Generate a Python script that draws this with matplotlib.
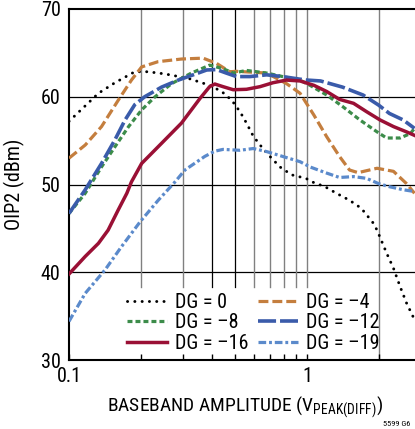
import numpy as np
import matplotlib
matplotlib.use("Agg")
import matplotlib.pyplot as plt

plt.rcParams['font.family'] = ['Liberation Sans Narrow', 'Roboto Condensed', 'DejaVu Sans Condensed',
                               'Liberation Sans', 'DejaVu Sans']

# DG = 0
x_dg0 = [0.1, 0.133, 0.156, 0.189, 0.215, 0.253, 0.317, 0.39, 0.438, 0.483, 0.523, 0.557,
         0.595, 0.644, 0.699, 0.77, 0.862, 0.99, 1.05, 1.19, 1.33, 1.51, 1.69, 1.9, 1.97,
         2.16, 2.31, 2.46, 2.62, 2.83]
y_dg0 = [57.2, 60.4, 61.6, 62.85, 62.85, 62.6, 62.1, 61.3, 60.6, 59.6, 58.3, 57.0,
         55.5, 54.3, 53.2, 52.0, 51.1, 50.7, 50.3, 49.75, 49.0, 48.2, 47.3, 45.6, 44.8,
         42.2, 40.45, 38.4, 36.5, 34.6]

# DG = -4
x_dg4 = [0.1, 0.117, 0.137, 0.161, 0.183, 0.202, 0.237, 0.297, 0.366, 0.417, 0.474, 0.505,
         0.677, 0.82, 0.935, 1.07, 1.21, 1.37, 1.51, 1.64, 1.97, 2.31, 2.62, 2.83]
y_dg4 = [53.0, 54.5, 56.6, 59.6, 61.9, 63.4, 64.0, 64.3, 64.4, 63.8, 62.85, 62.9,
         62.7, 61.5, 60.4, 57.9, 55.45, 53.2, 51.65, 51.35, 51.85, 51.5, 50.1, 49.0]

# DG = -8
x_dg8 = [0.1, 0.117, 0.137, 0.156, 0.178, 0.202, 0.23, 0.27, 0.327, 0.39, 0.444, 0.49,
         0.557, 0.677, 0.79, 0.935, 1.03, 1.21, 1.41, 1.67, 1.97, 2.16, 2.46, 2.72, 2.83]
y_dg8 = [46.7, 49.0, 52.0, 54.3, 56.6, 58.5, 60.0, 61.5, 62.7, 63.6, 63.2, 62.7,
         63.0, 62.7, 62.3, 61.9, 61.3, 60.2, 58.9, 57.35, 56.0, 55.3, 55.3, 55.8, 56.4]

# DG = -12
x_dg12 = [0.1, 0.117, 0.137, 0.156, 0.172, 0.189, 0.208, 0.245, 0.288, 0.349, 0.379, 0.417,
          0.458, 0.505, 0.577, 0.677, 0.79, 0.935, 1.0, 1.14, 1.41, 1.72, 2.0, 2.22, 2.54, 2.83]
y_dg12 = [46.7, 49.4, 52.4, 55.1, 57.35, 59.1, 60.0, 61.1, 61.9, 62.7, 63.05, 63.1,
          62.7, 62.3, 62.3, 62.5, 62.3, 62.0, 61.9, 61.8, 61.1, 60.2, 59.05, 58.1, 57.35, 56.4]

# DG = -16
x_dg16 = [0.1, 0.117, 0.133, 0.146, 0.161, 0.175, 0.183, 0.202, 0.245, 0.297, 0.355, 0.39,
          0.41, 0.444, 0.49, 0.557, 0.635, 0.72, 0.82, 0.935, 1.07, 1.21, 1.37, 1.57, 1.78,
          2.03, 2.31, 2.62, 2.83]
y_dg16 = [39.8, 41.8, 43.3, 44.8, 47.1, 49.0, 50.3, 52.4, 54.7, 57.0, 59.8, 61.15,
          61.45, 61.15, 60.8, 60.85, 61.15, 61.6, 61.9, 61.8, 61.3, 60.6, 59.7, 59.25, 58.3,
          57.35, 56.6, 56.0, 55.6]

# DG = -19
x_dg19 = [0.1, 0.117, 0.142, 0.166, 0.199, 0.237, 0.279, 0.307, 0.372, 0.41, 0.444, 0.523,
          0.595, 0.677, 0.79, 0.935, 1.03, 1.21, 1.37, 1.57, 1.78, 2.0, 2.22, 2.54, 2.83]
y_dg19 = [34.4, 37.6, 40.3, 42.9, 45.75, 48.2, 50.3, 51.65, 53.2, 53.8, 54.0, 53.9,
          54.1, 53.75, 53.2, 52.6, 52.0, 51.3, 50.8, 50.9, 50.7, 50.1, 49.75, 49.4, 49.2]

labels = ['DG = 0', 'DG = \u20134', 'DG = \u20138', 'DG = \u201312', 'DG = \u201316', 'DG = \u201319']

fig = plt.figure(figsize=(4.15, 4.29), dpi=100)
ax = fig.add_axes([69/415, 1-360/429, 351.5/415, 351/429])
ax.set_xscale('log')
ax.set_xlim(0.1, 3)
ax.set_ylim(30, 70)

# grid (stops above the legend)
for yv in [40, 50, 60]:
    ax.axhline(yv, color='black', lw=0.9, zorder=1)
gtop = (38.3 - 30) / 40
for xv in [0.2, 0.3, 0.6, 0.7, 0.8, 0.9, 1.0]:
    ax.axvline(xv, ymin=gtop, ymax=1, color='#808080', lw=1.0, zorder=1)
for xv in [0.4, 0.5]:
    ax.axvline(xv, ymin=gtop, ymax=1, color='black', lw=0.9, zorder=1)
ax.axvline(2, color='#808080', lw=1.0, zorder=1)

h0, = ax.plot(x_dg0, y_dg0, color='black', lw=2.1, linestyle=(0, (0.05, 2.45)),
              dash_capstyle='round', label=labels[0], zorder=3)
h4, = ax.plot(x_dg4, y_dg4, color='#C47E3E', lw=2.3, linestyle=(0, (3.1, 1.25)),
              label=labels[1], zorder=3)
h8, = ax.plot(x_dg8, y_dg8, color='#3C8C4A', lw=2.3, linestyle=(0, (1.55, 0.95)),
              label=labels[2], zorder=3)
h12, = ax.plot(x_dg12, y_dg12, color='#3A5BAA', lw=2.6, linestyle=(0, (5.0, 1.1)),
               label=labels[3], zorder=3)
h16, = ax.plot(x_dg16, y_dg16, color='#9A1035', lw=2.5, label=labels[4], zorder=3)
h19, = ax.plot(x_dg19, y_dg19, color='#5B8ACB', lw=2.3, linestyle=(0, (2.4, 0.9, 0.9, 0.9)),
               label=labels[5], zorder=3)

ax.set_xticks([0.1, 1])
ax.set_xticklabels(['0.1', '1'])
ax.set_xticks([0.2, 0.3, 0.4, 0.5, 0.6, 0.7, 0.8, 0.9, 2], minor=True)
ax.xaxis.set_minor_formatter(matplotlib.ticker.NullFormatter())
ax.tick_params(axis='x', which='both', direction='in', length=4, width=1, labelsize=14.5, pad=5)
ax.set_yticks([30, 40, 50, 60, 70])
ax.tick_params(axis='y', length=0, labelsize=14.5, pad=6)

for s in ['left', 'bottom', 'top']:
    ax.spines[s].set_linewidth(1.5)
ax.spines['right'].set_visible(False)

ax.set_ylabel('OIP2 (dBm)', fontsize=14.5)
ax.yaxis.set_label_coords(-0.125, 0.5)
ax.set_xlabel('BASEBAND AMPLITUDE (V$_{\\mathregular{PEAK(DIFF)}}$)', fontsize=14)
ax.xaxis.set_label_coords(0.5, -0.097)

# row-major order: matplotlib fills legend columns first
order = [h0, h8, h16, h4, h12, h19]
ax.legend(handles=order, ncol=2, loc='lower left', bbox_to_anchor=(0.145, 0.0), frameon=False,
          fontsize=14.5, handlelength=2.0, handletextpad=0.4, columnspacing=0.45,
          labelspacing=0.08, borderaxespad=0.05, borderpad=0.3)

fig.text(383/415, 1-424/429, '5599 G6', fontsize=6, va='center', ha='left')

fig.savefig('out.png', dpi=100)
